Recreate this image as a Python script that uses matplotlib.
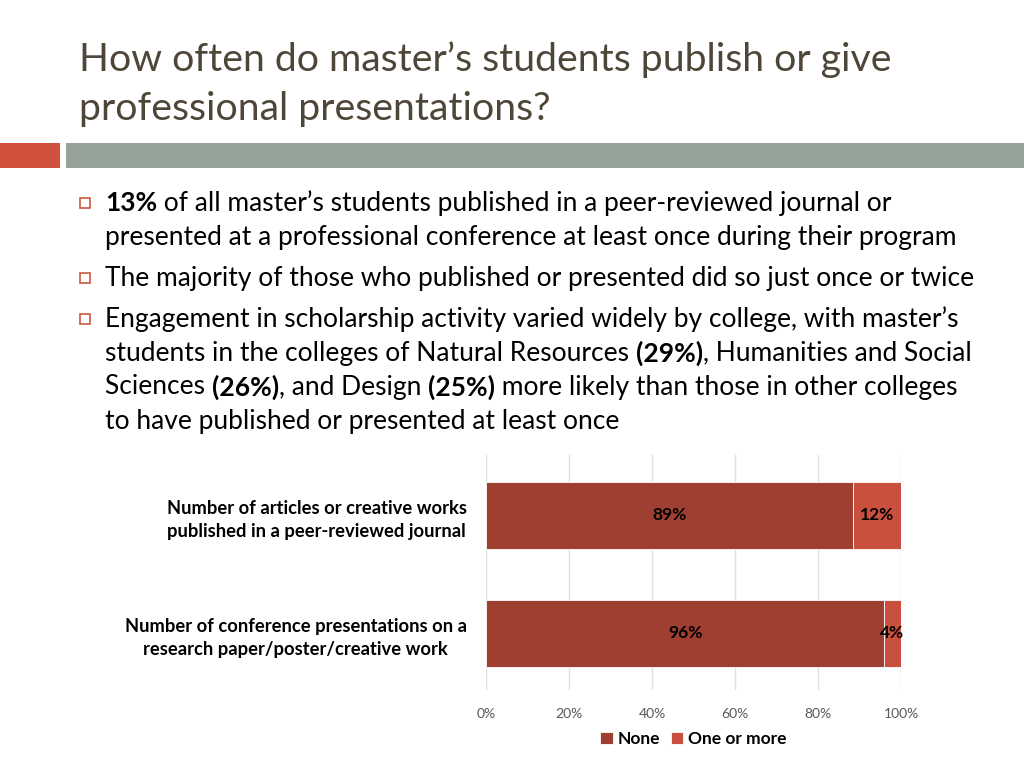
import matplotlib

matplotlib.use("Agg")
import matplotlib.pyplot as plt
from matplotlib.patches import Rectangle

plt.rcParams["font.family"] = ["Lato", "DejaVu Sans"]

# chart data
categories = [
    "Number of articles or creative works\npublished in a peer-reviewed journal",
    "Number of conference presentations on a\nresearch paper/poster/creative work",
]
none_vals = [88.4, 95.9]
more_vals = [11.6, 4.1]
none_labels = ["89%", "96%"]
more_labels = ["12%", "4%"]
series_names = ["None", "One or more"]
x_ticks = [0, 20, 40, 60, 80, 100]

title_lines = ["How often do master\u2019s students publish or give",
               "professional presentations?"]

# bullets: list of lines, each line a list of (text, bold) runs
bullets = [
    [[("13%", True), (" of all master\u2019s students published in a peer-reviewed journal or", False)],
     [("presented at a professional conference at least once during their program", False)]],
    [[("The majority of those who published or presented did so just once or twice", False)]],
    [[("Engagement in scholarship activity varied widely by college, with master\u2019s", False)],
     [("students in the colleges of Natural Resources ", False), ("(29%)", True),
      (", Humanities and Social", False)],
     [("Sciences ", False), ("(26%)", True), (", and Design ", False), ("(25%)", True),
      (" more likely than those in other colleges", False)],
     [("to have published or presented at least once", False)]],
]
bullet_line_y = [[203, 237], [278], [319, 353, 387, 421]]

C_NONE = "#9E3F31"
C_MORE = "#C94F3E"
W, H = 1024, 768

fig = plt.figure(figsize=(W / 100, H / 100), dpi=100)
fig.patch.set_facecolor("white")


def fx(px):
    return px / W


def fy(py):
    return 1 - py / H


# header bands
fig.patches.append(Rectangle((fx(0), fy(168)), fx(60), 25 / H, transform=fig.transFigure,
                             facecolor="#D0513E", edgecolor="none"))
fig.patches.append(Rectangle((fx(66), fy(168)), fx(W - 66), 25 / H, transform=fig.transFigure,
                             facecolor="#95A39A", edgecolor="none"))

# title
for i, line in enumerate(title_lines):
    fig.text(fx(79), fy(60 + 49 * i), line, fontsize=28.3, color="#4E4638",
             ha="left", va="center")

# bullets with mixed bold runs
fig.canvas.draw()
renderer = fig.canvas.get_renderer()
for bi, blines in enumerate(bullets):
    y0 = bullet_line_y[bi][0]
    fig.patches.append(Rectangle((fx(80), fy(y0 + 5)), 10 / W, 10 / H, transform=fig.transFigure,
                                 facecolor="none", edgecolor="#C9593F", linewidth=1.2))
    for li, runs in enumerate(blines):
        x = fx(105)
        y = fy(bullet_line_y[bi][li])
        for txt, bold in runs:
            t = fig.text(x, y, txt, fontsize=19, color="black",
                         fontweight="bold" if bold else "normal", ha="left", va="center")
            bb = t.get_window_extent(renderer=renderer)
            x += bb.width / W

# chart
ax = fig.add_axes([fx(486), fy(690), fx(901 - 486), (690 - 455) / H])
ypos = list(range(len(categories)))
b1 = ax.barh(ypos, none_vals, height=0.57, color=C_NONE, label=series_names[0],
             edgecolor="white", linewidth=0.6)
b2 = ax.barh(ypos, more_vals, left=none_vals, height=0.57, color=C_MORE,
             label=series_names[1], edgecolor="white", linewidth=0.6)
for i in ypos:
    ax.text(none_vals[i] / 2, i, none_labels[i], ha="center", va="center",
            fontsize=12.5, fontweight="bold", color="black")
    ax.text(none_vals[i] + more_vals[i] / 2, i, more_labels[i], ha="center", va="center",
            fontsize=12.5, fontweight="bold", color="black")

ax.set_xlim(0, 100)
ax.set_ylim(1.48, -0.51)
ax.set_xticks(x_ticks)
ax.set_xticklabels([f"{v}%" for v in x_ticks], fontsize=10, color="#595959")
ax.set_yticks(ypos)
ax.set_yticklabels(categories, fontsize=13.2, fontweight="bold", color="black",
                   multialignment="center", linespacing=1.45)
ax.tick_params(axis="both", length=0)
ax.tick_params(axis="x", pad=13)
ax.tick_params(axis="y", pad=14)
ax.grid(axis="x", color="#E0E0E0", linewidth=1)
ax.set_axisbelow(True)
for s in ax.spines.values():
    s.set_visible(False)

ax.legend(loc="upper center", bbox_to_anchor=(0.5, -0.11), ncol=2, frameon=False,
          handlelength=0.7, handleheight=0.7, handletextpad=0.3, columnspacing=0.6,
          prop={"weight": "bold", "size": 12.5})

fig.savefig("out.png", dpi=100, facecolor="white")
